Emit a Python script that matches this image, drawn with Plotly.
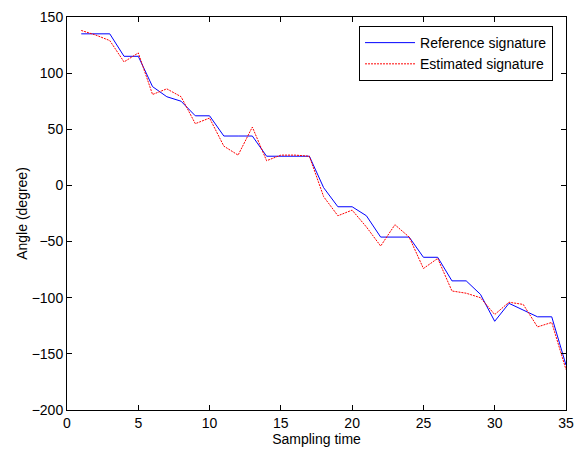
import plotly.graph_objects as go

sampling_time = list(range(1, 36))
reference_signature = [135, 135, 135, 115, 115, 88, 79, 75, 62, 62,
                       44, 44, 44, 26, 26, 26, 26, -2, -19, -19,
                       -27, -46, -46, -46, -64, -64, -85, -85, -97, -121,
                       -105, -111, -117, -117, -160]
estimated_signature = [138, 134, 129, 110, 118, 81, 86, 79, 55, 60,
                       35, 27, 52, 22, 27, 27, 26, -10, -27, -22,
                       -37, -54, -35, -46, -74, -65, -94, -96, -100, -115,
                       -104, -106, -126, -122, -164]

x_ticks = [0, 5, 10, 15, 20, 25, 30, 35]
y_ticks = [-200, -150, -100, -50, 0, 50, 100, 150]

font = dict(family="Liberation Sans, Arial, sans-serif", size=14, color="black")

fig = go.Figure()
fig.add_trace(go.Scatter(x=sampling_time, y=reference_signature, mode="lines",
                         name="Reference signature",
                         line=dict(color="#0000ff", width=1)))
fig.add_trace(go.Scatter(x=sampling_time, y=estimated_signature, mode="lines",
                         name="Estimated signature",
                         line=dict(color="#ff0000", width=1, dash="2px,1px")))

axis_common = dict(showgrid=False, zeroline=False, showline=True, linecolor="black",
                   linewidth=1, mirror="ticks", ticks="inside", ticklen=5,
                   tickcolor="black", tickfont=font, automargin=False)
fig.update_xaxes(range=[0, 35], tickvals=x_ticks,
                 title=dict(text="Sampling time", font=font, standoff=0),
                 **axis_common)
fig.update_yaxes(range=[-200, 150], tickvals=y_ticks,
                 title=dict(text="Angle (degree)", font=font, standoff=0),
                 **axis_common)

fig.update_layout(
    width=575, height=450,
    margin=dict(l=67, r=9, t=17, b=40),
    paper_bgcolor="white", plot_bgcolor="white",
    font=font,
    showlegend=True,
    legend=dict(x=0.974, y=0.977, xanchor="right", yanchor="top",
                bgcolor="white", bordercolor="black", borderwidth=1,
                itemwidth=50, font=font, tracegroupgap=0),
)

fig.write_html("out.html", config={"displayModeBar": False},
               post_script="document.body.style.margin='0';document.body.style.overflow='hidden';")
